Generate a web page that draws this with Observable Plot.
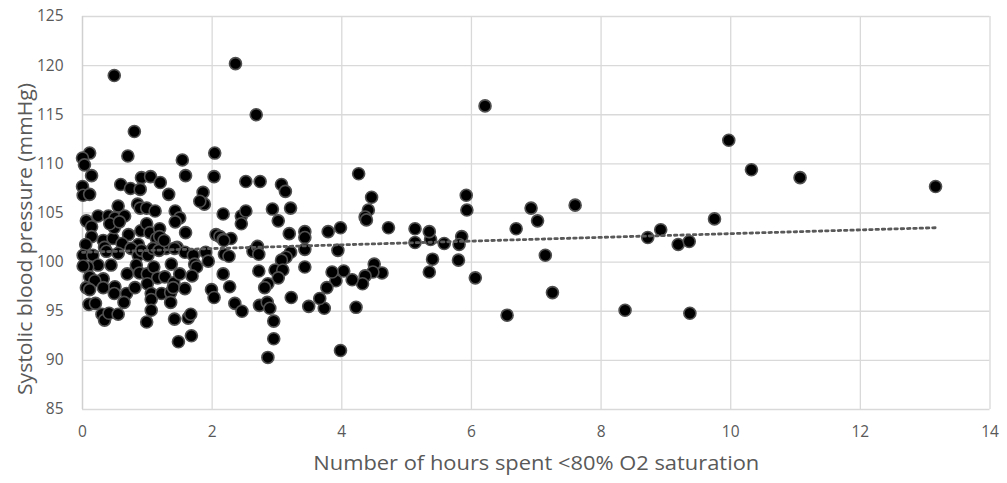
<!DOCTYPE html>
<html>
<head>
<meta charset="utf-8">
<script src="https://cdn.jsdelivr.net/npm/d3@7"></script>
<script src="https://cdn.jsdelivr.net/npm/@observablehq/plot@0.6"></script>
<style>
  html, body { margin: 0; padding: 0; background: #fff; }
</style>
</head>
<body>
<div id="chart"></div>
<script>
// Hours spent < 80% O2 saturation
const hours = [
  0.49, 2.36, 2.68, 6.21, 9.97, 10.32, 11.07, 13.16, 9.75, 8.72,
  8.92, 9.19, 9.36, 8.37, 9.37, 6.55, 7.25, 7.14, 6.69, 6.92,
  7.02, 7.60, 6.06, 5.92, 5.93, 5.85, 5.81, 5.80, 5.58, 5.37,
  5.35, 5.13, 5.13, 5.40, 5.35, 4.72, 4.62, 4.50, 4.48, 4.36,
  4.32, 4.46, 4.41, 4.36, 4.38, 4.26, 4.22, 4.16, 4.03, 3.98,
  3.94, 3.98, 3.91, 3.85, 3.79, 3.77, 3.73, 3.66, 3.49, 3.43,
  3.43, 3.43, 3.43, 3.22, 3.21, 3.14, 3.07, 3.19, 3.21, 3.02,
  2.93, 3.07, 3.13, 2.74, 2.52, 2.04, 2.03, 1.86, 1.88, 2.17,
  2.45, 2.52, 2.45, 2.06, 2.12, 2.17, 2.29, 2.18, 1.90, 1.94,
  2.19, 2.26, 2.63, 2.70, 2.72, 2.17, 2.72, 2.97, 3.09, 3.02,
  2.86, 2.81, 2.27, 1.99, 2.03, 2.35, 2.46, 2.73, 2.85, 2.89,
  2.95, 2.95, 2.86,
  0.80, 0.11, 0.00, 0.03, 0.70, 1.54, 1.59, 0.14, 0.91, 1.05,
  0.59, 0.74, 0.89, 1.20, 1.33, 0.00, 0.01, 0.11, 1.81, 0.55,
  0.85, 0.89, 0.99, 1.12, 1.43, 1.50, 0.06, 0.24, 0.40, 0.50,
  0.65, 0.14, 0.14, 0.05, 0.32, 0.47, 0.49, 0.42, 0.57, 0.71,
  0.61, 0.90, 0.99, 1.04, 1.19, 1.14, 1.19, 0.86, 1.43, 1.46,
  1.29, 0.34, 0.75, 1.59, 1.42, 1.58, 1.71, 0.01, 0.16, 0.37,
  0.55, 0.44, 0.24, 0.08, 0.01, 0.11, 0.32, 0.19, 0.06, 0.11,
  0.32, 0.50, 0.49, 0.69, 0.86, 0.91, 1.01, 1.09, 1.18, 0.83,
  0.88, 1.00, 1.10, 1.16, 1.27, 1.37, 1.41, 1.50, 0.68, 0.81,
  1.00, 1.06, 1.06, 1.22, 1.36, 1.36, 1.06, 0.64, 0.10, 0.20,
  0.30, 0.34, 0.41, 0.55, 0.99, 1.42, 1.48, 1.73, 1.76, 1.69,
  1.40, 1.58, 1.63, 1.67, 1.68, 1.26
];
// Systolic blood pressure (mmHg)
const sbp = [
  119.0, 120.2, 115.0, 115.9, 112.4, 109.4, 108.6, 107.7, 104.4, 102.5,
  103.3, 101.8, 102.1, 95.1, 94.8, 94.6, 96.9, 100.7, 103.4, 105.5,
  104.2, 105.8, 98.4, 106.8, 105.3, 102.6, 101.8, 100.2, 101.9, 102.3,
  103.1, 103.4, 102.0, 100.3, 99.0, 103.5, 98.9, 99.8, 99.0, 98.6,
  97.8, 106.6, 105.3, 104.6, 104.3, 109.0, 95.4, 98.2, 99.1, 103.5,
  101.2, 91.0, 98.1, 99.0, 103.1, 97.4, 95.3, 96.3, 95.5, 103.1,
  102.5, 101.3, 99.5, 96.4, 101.0, 100.5, 100.2, 102.9, 105.5, 104.2,
  105.4, 107.9, 107.2, 108.2, 108.2, 111.1, 108.7, 107.1, 105.9, 104.9,
  104.7, 105.2, 103.9, 102.8, 102.6, 102.3, 102.4, 102.2, 101.0, 100.1,
  100.8, 100.6, 101.1, 101.6, 100.8, 98.8, 99.1, 99.2, 99.2, 98.4,
  97.8, 97.4, 97.5, 97.2, 96.4, 95.8, 95.0, 95.6, 95.9, 95.3,
  94.0, 92.2, 90.3,
  113.3, 111.1, 110.6, 109.9, 110.8, 110.4, 108.8, 108.8, 108.6, 108.7,
  107.9, 107.5, 107.4, 108.1, 106.9, 107.7, 106.8, 106.9, 106.2, 105.7,
  105.9, 105.5, 105.5, 105.2, 105.2, 104.5, 104.2, 104.7, 104.7, 104.5,
  104.7, 103.6, 102.6, 101.8, 102.2, 102.4, 103.5, 103.9, 104.1, 102.8,
  101.9, 103.2, 103.9, 103.0, 103.4, 102.4, 102.6, 101.8, 104.1, 101.5,
  101.4, 101.5, 101.4, 103.0, 101.4, 101.0, 100.7, 100.7, 100.7, 101.1,
  100.9, 99.7, 99.7, 99.5, 99.6, 98.5, 98.3, 98.1, 97.4, 97.2,
  97.4, 97.5, 96.8, 98.8, 100.7, 101.2, 100.7, 101.4, 101.2, 99.7,
  98.9, 98.8, 99.5, 98.4, 98.5, 99.8, 97.9, 98.8, 96.8, 97.4,
  97.8, 96.8, 96.2, 96.8, 96.9, 95.9, 95.1, 95.9, 95.7, 95.8,
  94.7, 94.1, 94.8, 94.7, 93.9, 94.2, 91.9, 99.8, 99.5, 98.6,
  97.4, 97.3, 94.3, 94.7, 92.5, 102.2
];
// Linear trendline end points
const trendHours = [0, 13.16];
const trendSbp = [101.0, 103.5];

const xTicks = [0, 2, 4, 6, 8, 10, 12, 14];
const yTicks = [85, 90, 95, 100, 105, 110, 115, 120, 125];
const xTitle = "Number of hours spent <80% O2 saturation";
const yTitle = "Systolic blood pressure (mmHg)";

const points = hours.map((h, i) => ({ h, p: sbp[i] }));
const trend = trendHours.map((h, i) => ({ h, p: trendSbp[i] }));

const grey = "#595959";
const chart = Plot.plot({
  width: 1007,
  height: 483,
  marginTop: 16,
  marginBottom: 74,
  marginLeft: 82,
  marginRight: 17.5,
  style: { fontFamily: "'Open Sans', sans-serif", fontSize: "15px", color: grey, background: "#fff", overflow: "visible" },
  x: { domain: [0, 14], label: null },
  y: { domain: [85, 125], label: null },
  marks: [
    Plot.gridX(xTicks, { stroke: "#d9d9d9", strokeOpacity: 1, strokeWidth: 1.3 }),
    Plot.gridY(yTicks, { stroke: "#d9d9d9", strokeOpacity: 1, strokeWidth: 1.3 }),
    Plot.ruleX([0], { stroke: "#d0d0d0", strokeWidth: 1.3 }),
    Plot.axisX(xTicks, { tickSize: 0, tickPadding: 16, fontSize: 15.5, fill: grey, label: null }),
    Plot.axisY(yTicks, { tickSize: 0, tickPadding: 19, fontSize: 15.5, fill: grey, label: null }),
    Plot.dot(points, { x: "h", y: "p", r: 6, fill: "#000", stroke: "#505050", strokeWidth: 1.6 }),
    Plot.line(trend, { x: "h", y: "p", stroke: grey, strokeWidth: 2.8, strokeDasharray: "2.5 3.8" }),
    Plot.text([xTitle], { frameAnchor: "bottom", dy: 60, fontSize: 19.5, fill: grey, textAnchor: "middle" }),
    Plot.text([yTitle], { frameAnchor: "left", dx: -57, dy: 26, rotate: -90, fontSize: 19.5, fill: grey, textAnchor: "middle", lineAnchor: "middle" })
  ]
});

// fit titles to the lengths measured on the reference
chart.querySelectorAll("text").forEach(t => {
  if (t.textContent === xTitle) { t.setAttribute("textLength", 446); t.setAttribute("lengthAdjust", "spacingAndGlyphs"); }
  if (t.textContent === yTitle) { t.setAttribute("textLength", 312); t.setAttribute("lengthAdjust", "spacingAndGlyphs"); }
});
document.getElementById("chart").appendChild(chart);
</script>
</body>
</html>
